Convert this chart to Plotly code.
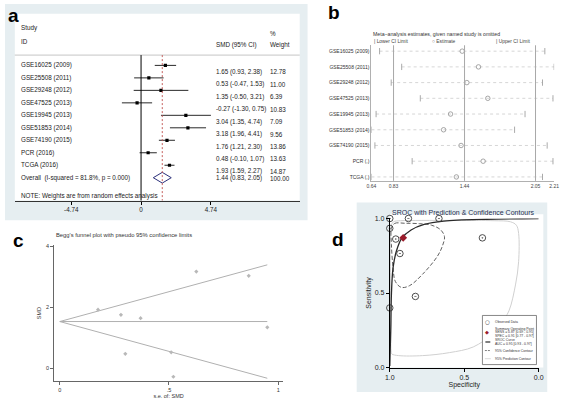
import plotly.graph_objects as go

W, H = 567, 401
def fx(p): return p / W
def fy(p): return 1 - p / H

FONT = "Liberation Sans, Arial, Helvetica, sans-serif"

# ---------------- Panel a: forest plot ----------------
studies = ["GSE16025 (2009)", "GSE25508 (2011)", "GSE29248 (2012)", "GSE47525 (2013)",
           "GSE19945 (2013)", "GSE51853 (2014)", "GSE74190 (2015)", "PCR (2016)", "TCGA (2016)"]
smd = [1.65, 0.53, 1.35, -0.27, 3.04, 3.18, 1.76, 0.48, 1.93]
ci_lo = [0.93, -0.47, -0.50, -1.30, 1.35, 1.96, 1.21, -0.10, 1.59]
ci_hi = [2.38, 1.53, 3.21, 0.75, 4.74, 4.41, 2.30, 1.07, 2.27]
weights = [12.78, 11.00, 6.39, 10.83, 7.09, 9.56, 13.86, 13.63, 14.87]
overall_label = "Overall  (I-squared = 81.8%, p = 0.000)"
overall_est, overall_lo, overall_hi, overall_w = 1.44, 0.83, 2.05, 100.00
a_ticks = [-4.74, 0, 4.74]
a_ticktext = ["-4.74", "0", "4.74"]

# ---------------- Panel b: influence analysis ----------------
b_labels = ["GSE16025 (2009)", "GSE25508 (2011)", "GSE29248 (2012)", "GSE47525 (2013)",
            "GSE19945 (2013)", "GSE51853 (2014)", "GSE74190 (2015)", "PCR (.)", "TCGA (.)"]
b_est = [1.42, 1.56, 1.46, 1.64, 1.32, 1.26, 1.41, 1.60, 1.37]
b_lo = [0.71, 0.90, 0.81, 1.06, 0.68, 0.64, 0.67, 0.99, 0.64]
b_hi = [2.13, 2.21, 2.11, 2.20, 1.96, 1.87, 2.15, 2.20, 2.11]
b_ref = [0.83, 1.44, 2.05]
b_ticks = [0.64, 0.83, 1.44, 2.05, 2.21]

# ---------------- Panel c: Begg's funnel ----------------
c_se = [0.37, 0.51, 0.95, 0.52, 0.865, 0.625, 0.28, 0.30, 0.175]
c_smd = [1.65, 0.53, 1.35, -0.27, 3.04, 3.18, 1.76, 0.48, 1.93]
funnel_se = [0.0, 0.95]
funnel_center = [1.54, 1.54]
funnel_upper = [1.54, 3.40]
funnel_lower = [1.54, -0.32]

# ---------------- Panel d: SROC ----------------
obs_spec = [1.0, 0.875, 0.67, 1.0, 0.96, 0.378, 0.932, 0.828, 1.0]
obs_sens = [1.0, 1.0, 1.0, 0.934, 0.862, 0.87, 0.765, 0.477, 0.40]
sum_spec, sum_sens = [0.91], [0.87]
sroc_spec = [1.0, 0.993, 0.989, 0.978, 0.956, 0.919, 0.857, 0.769, 0.637, 0.35, 0.0]
sroc_sens = [0.01, 0.275, 0.494, 0.67, 0.78, 0.868, 0.923, 0.96, 0.982, 0.995, 1.0]
conf_spec = [0.989, 0.967, 0.90, 0.80, 0.72, 0.66, 0.633, 0.645, 0.68, 0.78, 0.868, 0.923, 0.963, 0.978, 0.989, 0.989]
conf_sens = [0.934, 0.967, 0.968, 0.965, 0.955, 0.925, 0.879, 0.82, 0.747, 0.626, 0.549, 0.538, 0.578, 0.67, 0.824, 0.934]
pred_spec = [0.99, 0.993, 0.995, 0.995, 0.99, 0.975, 0.93, 0.79, 0.55, 0.30, 0.19, 0.15, 0.135, 0.135,
             0.155, 0.20, 0.25, 0.31, 0.44, 0.60, 0.78, 0.94, 0.985, 0.99]
pred_sens = [0.10, 0.28, 0.60, 0.89, 0.955, 0.978, 0.985, 0.987, 0.987, 0.985, 0.978, 0.955, 0.90, 0.71,
             0.56, 0.38, 0.30, 0.226, 0.138, 0.10, 0.08, 0.08, 0.09, 0.10]

fig = go.Figure()

# ---- a traces
rows = list(range(len(studies)))
fig.add_trace(go.Scatter(
    x=smd, y=rows, mode="markers", xaxis="x", yaxis="y",
    marker=dict(symbol="square", size=3.2, color="black"),
    error_x=dict(type="data", symmetric=False,
                 array=[h - s for h, s in zip(ci_hi, smd)],
                 arrayminus=[s - l for s, l in zip(smd, ci_lo)],
                 color="#111", thickness=0.9, width=0),
    hoverinfo="skip"))
ov = len(studies)
fig.add_trace(go.Scatter(
    x=[overall_lo, overall_est, overall_hi, overall_est, overall_lo],
    y=[ov, ov - 0.43, ov, ov + 0.43, ov], mode="lines", xaxis="x", yaxis="y",
    line=dict(color="#2b2f7a", width=1), hoverinfo="skip"))

# ---- b traces
bx, by = [], []
for i, (l, h) in enumerate(zip(b_lo, b_hi)):
    bx += [l, h, None]; by += [i, i, None]
fig.add_trace(go.Scatter(x=bx, y=by, mode="lines", xaxis="x2", yaxis="y2",
                         line=dict(color="#cccccc", width=0.8, dash="dot"), hoverinfo="skip"))
for vals in (b_lo, b_hi):
    fig.add_trace(go.Scatter(x=vals, y=list(range(len(vals))), mode="markers", xaxis="x2", yaxis="y2",
                             marker=dict(symbol="line-ns", size=4.5, color="#a0a0a0",
                                         line=dict(color="#a0a0a0", width=0.9)), hoverinfo="skip"))
fig.add_trace(go.Scatter(x=b_est, y=list(range(len(b_est))), mode="markers", xaxis="x2", yaxis="y2",
                         marker=dict(symbol="circle-open", size=4.5, color="#909090",
                                     line=dict(width=0.8)), hoverinfo="skip"))

# ---- c traces
for yy in (funnel_center, funnel_upper, funnel_lower):
    fig.add_trace(go.Scatter(x=funnel_se, y=yy, mode="lines", xaxis="x3", yaxis="y3",
                             line=dict(color="#b0b0b0", width=1), hoverinfo="skip"))
fig.add_trace(go.Scatter(x=c_se, y=c_smd, mode="markers", xaxis="x3", yaxis="y3",
                         marker=dict(symbol="diamond", size=3.2, color="#b8b8b8"), hoverinfo="skip"))

# ---- d traces
fig.add_trace(go.Scatter(x=pred_spec, y=pred_sens, mode="lines", xaxis="x4", yaxis="y4",
                         line=dict(color="#d0d0d0", width=1, shape="spline", smoothing=1.0),
                         hoverinfo="skip", cliponaxis=False))
fig.add_trace(go.Scatter(x=conf_spec, y=conf_sens, mode="lines", xaxis="x4", yaxis="y4",
                         line=dict(color="#606060", width=1, dash="4px,2px", shape="spline", smoothing=1.0),
                         hoverinfo="skip", cliponaxis=False))
fig.add_trace(go.Scatter(x=sroc_spec, y=sroc_sens, mode="lines", xaxis="x4", yaxis="y4",
                         line=dict(color="#2a2a2a", width=1.3, shape="spline", smoothing=1.0),
                         hoverinfo="skip", cliponaxis=False))
fig.add_trace(go.Scatter(x=obs_spec, y=obs_sens, mode="markers", xaxis="x4", yaxis="y4",
                         marker=dict(symbol="circle-open-dot", size=6.5, color="#3a3a3a",
                                     line=dict(width=0.9)), hoverinfo="skip", cliponaxis=False))
fig.add_trace(go.Scatter(x=sum_spec, y=sum_sens, mode="markers", xaxis="x4", yaxis="y4",
                         marker=dict(symbol="diamond", size=6, color="#9b1b2b"),
                         hoverinfo="skip", cliponaxis=False))

# ---------------- shapes ----------------
LB = "#e6eef1"
shapes = [
    dict(type="rect", xref="paper", yref="paper", x0=fx(0), x1=fx(308), y0=fy(0), y1=fy(220),
         fillcolor=LB, line=dict(width=0), layer="below"),
    dict(type="rect", xref="paper", yref="paper", x0=fx(10), x1=fx(300), y0=fy(10), y1=fy(200),
         fillcolor="white", line=dict(width=0), layer="below"),
    dict(type="rect", xref="paper", yref="paper", x0=fx(358), x1=fx(552), y0=fy(202), y1=fy(395),
         fillcolor=LB, line=dict(width=0), layer="below"),
    dict(type="rect", xref="paper", yref="paper", x0=fx(391.7), x1=fx(548), y0=fy(214), y1=fy(370),
         fillcolor="white", line=dict(width=0), layer="below"),
    # header line in a
    dict(type="line", xref="paper", yref="paper", x0=fx(10), x1=fx(300), y0=fy(52), y1=fy(52),
         line=dict(color="#b8b8b8", width=0.8)),
    # no-effect line and overall line in a
    dict(type="line", xref="x", yref="paper", x0=0, x1=0, y0=fy(52), y1=fy(200),
         line=dict(color="black", width=1)),
    dict(type="line", xref="x", yref="paper", x0=overall_est, x1=overall_est, y0=fy(52), y1=fy(200),
         line=dict(color="#c0504d", width=0.9, dash="2px,2px")),
]
for v in b_ref:
    shapes.append(dict(type="line", xref="x2", yref="y2 domain", x0=v, x1=v, y0=0, y1=1,
                       line=dict(color="#a8a8a8", width=1)))
# legend box in d
shapes.append(dict(type="rect", xref="paper", yref="paper", x0=fx(486), x1=fx(541), y0=fy(317), y1=fy(367),
                   fillcolor="white", line=dict(color="#555", width=0.7)))
shapes.append(dict(type="line", xref="paper", yref="paper", x0=fx(489), x1=fx(494), y0=fy(344), y1=fy(344),
                   line=dict(color="#2a2a2a", width=1.2)))
shapes.append(dict(type="line", xref="paper", yref="paper", x0=fx(488.5), x1=fx(494.5), y0=fy(352.7), y1=fy(352.7),
                   line=dict(color="#606060", width=0.8, dash="2px,1px")))
shapes.append(dict(type="line", xref="paper", yref="paper", x0=fx(488.5), x1=fx(494.5), y0=fy(361), y1=fy(361),
                   line=dict(color="#cfcfcf", width=0.8)))

# ---------------- annotations ----------------
ann = []
def A(text, x, y, size, xanchor="left", yanchor="middle", color="#222", bold=False, family=FONT, **kw):
    t = f"<b>{text}</b>" if bold else text
    d = dict(text=t, x=fx(x), y=fy(y), xref="paper", yref="paper", showarrow=False,
             xanchor=xanchor, yanchor=yanchor, font=dict(size=size, color=color, family=family))
    d.update(kw)
    ann.append(d)

# panel labels
A("a", 1, 12, 19, bold=True, color="black")
A("b", 327, 9, 19, bold=True, color="black")
A("c", 6, 241, 19, bold=True, color="black")
A("d", 331, 240, 19, bold=True, color="black")

# a header
A("Study", 14, 24, 6.3)
A("ID", 14, 38, 6.3)
A("SMD (95% CI)", 213, 42, 6.3)
A("%", 268, 30, 6.3)
A("Weight", 268, 42, 6.3)
for i, s in enumerate(studies):
    ann.append(dict(text=s, x=fx(14), y=i, xref="paper", yref="y", showarrow=False, xanchor="left",
                    yanchor="middle", font=dict(size=6.3, color="#222", family=FONT)))
    ann.append(dict(text=f"{smd[i]:.2f} ({ci_lo[i]:.2f}, {ci_hi[i]:.2f})", x=fx(213), y=i + 0.5,
                    xref="paper", yref="y", showarrow=False, xanchor="left", yanchor="middle",
                    font=dict(size=6.3, color="#222", family=FONT)))
    ann.append(dict(text=f"{weights[i]:.2f}", x=fx(268), y=i + 0.5, xref="paper", yref="y",
                    showarrow=False, xanchor="left", yanchor="middle",
                    font=dict(size=6.3, color="#222", family=FONT)))
ann.append(dict(text=overall_label, x=fx(14), y=ov, xref="paper", yref="y", showarrow=False,
                xanchor="left", yanchor="middle", font=dict(size=6.3, color="#222", family=FONT)))
ann.append(dict(text=f"{overall_est:.2f} ({overall_lo:.2f}, {overall_hi:.2f})", x=fx(213), y=ov + 0.05,
                xref="paper", yref="y", showarrow=False, xanchor="left", yanchor="middle",
                font=dict(size=6.3, color="#222", family=FONT)))
ann.append(dict(text=f"{overall_w:.2f}", x=fx(268), y=ov + 0.05, xref="paper", yref="y",
                showarrow=False, xanchor="left", yanchor="middle",
                font=dict(size=6.3, color="#222", family=FONT)))
A("NOTE: Weights are from random effects analysis", 14, 195, 6.3)

# b title and legend
A("Meta\u2212analysis estimates, given named study is omitted", 373, 30.5, 5.2, color="#333")
A("| Lower CI Limit", 374, 38.3, 4.9, color="#444")
A("\u25cb Estimate", 433, 38.3, 4.9, color="#444")
A("| Upper CI Limit", 498, 38.3, 4.9, color="#444")

# c title
A("Begg's funnel plot with pseudo 95% confidence limits", 50, 235, 5.8, color="#333")

# d title and legend text
A("SROC with Prediction & Confidence Contours", 467, 212.5, 7, xanchor="center", color="#1e2d4f")
A("\u25cb", 491, 323.3, 5.5, xanchor="center", color="#333", family="DejaVu Sans")
A("\u25c6", 491, 334, 5, xanchor="center", color="#9b1b2b", family="DejaVu Sans")
LF = 3.4
A("Observed Data", 496.5, 323.3, LF, color="#333")
A("Summary Operating Point", 496.5, 330.7, LF, color="#333")
A("SENS = 0.87 [0.69 - 0.95]", 496.5, 334.2, LF, color="#333")
A("SPEC = 0.91 [0.77 - 0.97]", 496.5, 337.7, LF, color="#333")
A("SROC Curve", 496.5, 342.3, LF, color="#333")
A("AUC = 0.95 [0.93 - 0.97]", 496.5, 346, LF, color="#333")
A("95% Confidence Contour", 496.5, 352.7, LF, color="#333")
A("95% Prediction Contour", 496.5, 361, LF, color="#333")

# ---------------- axes ----------------
row_px0, row_step = 62.5, 12.7
a_yrange = [(200 - row_px0) / row_step, (10 - row_px0) / row_step]
a_scale0, a_scale = 138.5, 15.0
a_xrange = [(10 - a_scale0) / a_scale, (300 - a_scale0) / a_scale]

b_row0, b_step = 48, 16
b_yrange = [(180 - b_row0) / b_step, (42 - b_row0) / b_step]

tickfont_a = dict(size=6.3, color="#222", family=FONT)
fig.update_layout(
    width=W, height=H, margin=dict(l=0, r=0, t=0, b=0),
    paper_bgcolor="white", plot_bgcolor="rgba(0,0,0,0)",
    showlegend=False, font=dict(family=FONT),
    shapes=shapes, annotations=ann,
    xaxis=dict(domain=[fx(10), fx(300)], range=a_xrange, anchor="y", showgrid=False, zeroline=False,
               tickvals=a_ticks, ticktext=a_ticktext, ticks="outside", ticklen=3, tickcolor="black",
               showline=True, linecolor="#333", linewidth=1, tickfont=tickfont_a, fixedrange=True),
    yaxis=dict(domain=[fy(200), fy(10)], range=a_yrange, anchor="x", visible=False, fixedrange=True),
    xaxis2=dict(domain=[fx(373), fx(559)], range=[0.64, 2.21], anchor="y2", showgrid=False, zeroline=False,
                tickvals=b_ticks, ticktext=[f"{t:.2f}" for t in b_ticks], ticks="",
                showline=True, linecolor="#b0b0b0", linewidth=1,
                tickfont=dict(size=5, color="#444", family=FONT)),
    yaxis2=dict(domain=[fy(180), fy(42)], range=b_yrange, anchor="x2", showgrid=False, zeroline=False,
                tickvals=list(range(len(b_labels))), ticktext=b_labels, ticks="",
                showline=True, linecolor="#b0b0b0", linewidth=1,
                tickfont=dict(size=5, color="#333", family=FONT)),
    xaxis3=dict(domain=[fx(50), fx(283)], range=[-0.026, 1.022], anchor="y3", showgrid=False, zeroline=False,
                tickvals=[0, 0.5, 1], ticktext=["0", ".5", "1"], ticks="outside", ticklen=3,
                tickcolor="#666", showline=True, linecolor="#666", linewidth=1,
                tickfont=dict(size=5.5, color="#333", family=FONT),
                title=dict(text="s.e. of: SMD", font=dict(size=5.5, color="#333", family=FONT), standoff=2)),
    yaxis3=dict(domain=[fy(384), fy(245)], range=[-0.42, 4.06], anchor="x3", showgrid=False, zeroline=False,
                tickvals=[0, 2, 4], ticks="outside", ticklen=3, tickcolor="#666",
                showline=True, linecolor="#666", linewidth=1,
                tickfont=dict(size=5.5, color="#333", family=FONT),
                title=dict(text="SMD", font=dict(size=5.5, color="#333", family=FONT), standoff=4)),
    xaxis4=dict(domain=[fx(391.7), fx(543.3)], range=[1, 0], anchor="y4", showgrid=False, zeroline=False,
                tickvals=[1, 0.5, 0], ticktext=["1.0", "0.5", "0.0"], ticks="outside", ticklen=3,
                tickcolor="black", showline=True, linecolor="black", linewidth=1,
                tickfont=dict(size=7, color="#222", family=FONT),
                title=dict(text="Specificity", font=dict(size=7, color="#222", family=FONT), standoff=2)),
    yaxis4=dict(domain=[fy(370), fy(218.3)], range=[0, 1], anchor="x4", showgrid=False, zeroline=False,
                tickvals=[0, 0.5, 1], ticktext=["0.0", "0.5", "1.0"], ticks="outside", ticklen=3,
                tickcolor="black", showline=True, linecolor="black", linewidth=1,
                tickfont=dict(size=7, color="#222", family=FONT),
                title=dict(text="Sensitivity", font=dict(size=7, color="#222", family=FONT), standoff=2)),
)

fig.write_html("out.html", config={"displayModeBar": False},
               post_script="document.body.style.margin='0';document.body.style.padding='0';")
